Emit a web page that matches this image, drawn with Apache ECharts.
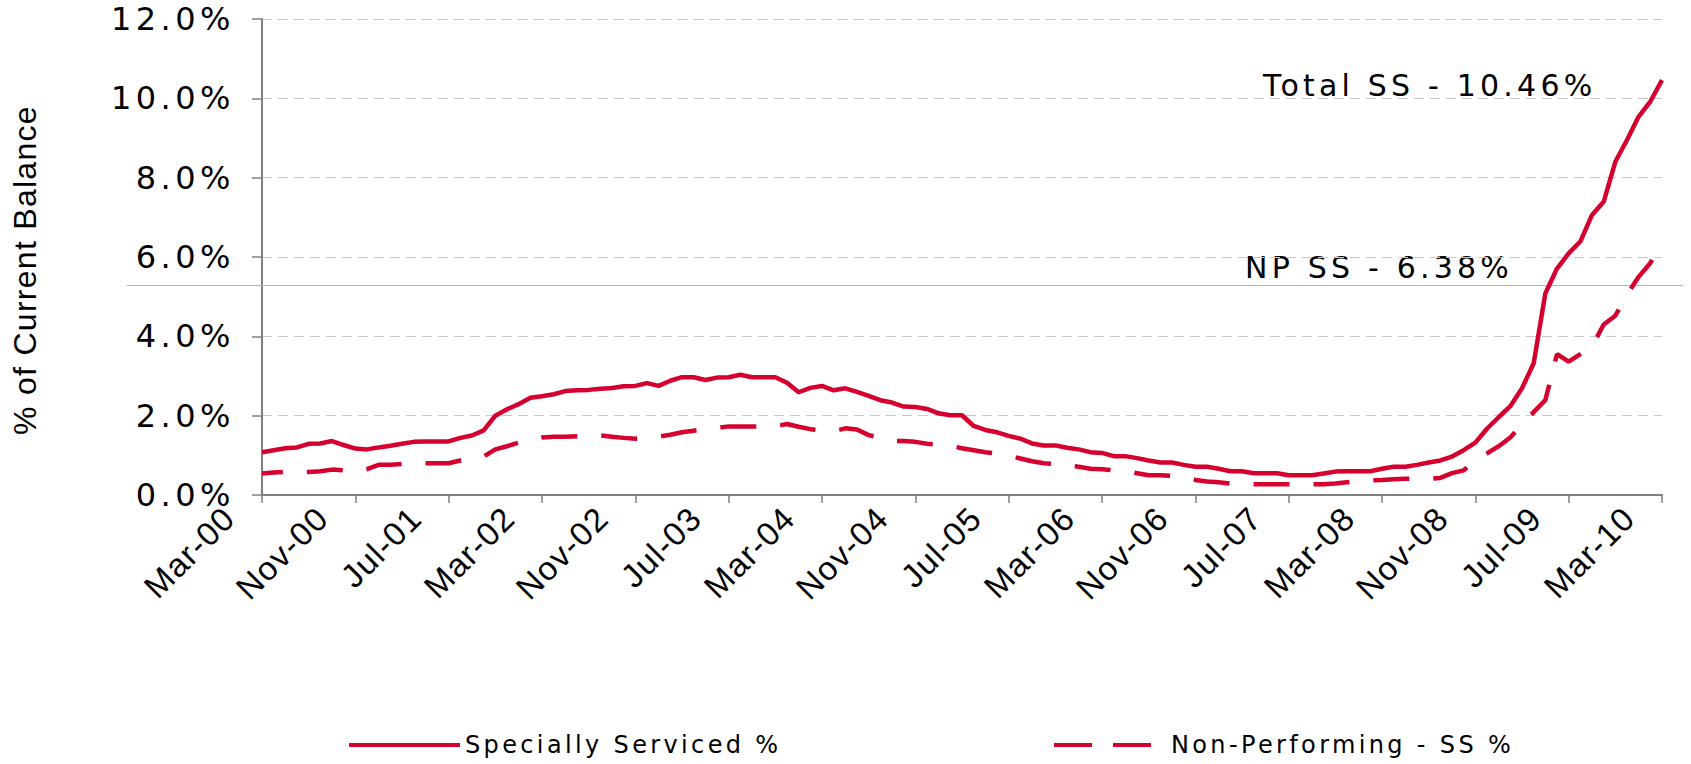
<!DOCTYPE html>
<html>
<head>
<meta charset="utf-8">
<title>Specially Serviced %</title>
<script src="https://cdn.jsdelivr.net/npm/echarts@6/dist/echarts.min.js"></script>
<style>
  html, body { margin: 0; padding: 0; background: #fff; }
  #main { width: 1691px; height: 764px; }
  /* the slide text is spaced out, svg renderer lets css do that */
  #main text[style*="DejaVu"] { letter-spacing: 0.14em; }
  #main text[style*="Liberation"] { letter-spacing: 0.04em; }
</style>
</head>
<body>
<div id="main"></div>
<script>
// months Mar-00 .. Mar-10
var monthNames = ['Jan', 'Feb', 'Mar', 'Apr', 'May', 'Jun', 'Jul', 'Aug', 'Sep', 'Oct', 'Nov', 'Dec'];
var months = [];
for (var k = 0; k <= 120; k++) {
  var m = (2 + k) % 12;
  var yr = Math.floor((2 + k) / 12);
  months.push(monthNames[m] + '-' + (yr < 10 ? '0' + yr : '' + yr));
}

// Specially Serviced % (total)
var totalSS = [
  1.08, 1.13, 1.18, 1.20, 1.29, 1.30, 1.36, 1.26, 1.17, 1.15,
  1.20, 1.24, 1.29, 1.34, 1.35, 1.35, 1.35, 1.44, 1.50, 1.63,
  2.00, 2.16, 2.29, 2.45, 2.49, 2.54, 2.62, 2.64, 2.65, 2.68,
  2.70, 2.74, 2.75, 2.82, 2.75, 2.88, 2.97, 2.97, 2.90, 2.96,
  2.97, 3.03, 2.97, 2.97, 2.97, 2.83, 2.59, 2.70, 2.75, 2.64,
  2.69, 2.60, 2.50, 2.39, 2.33, 2.23, 2.22, 2.17, 2.06, 2.01,
  2.01, 1.74, 1.64, 1.58, 1.49, 1.42, 1.30, 1.25, 1.25, 1.19,
  1.15, 1.08, 1.06, 0.98, 0.98, 0.93, 0.87, 0.82, 0.82, 0.76,
  0.71, 0.71, 0.66, 0.60, 0.60, 0.55, 0.55, 0.55, 0.50, 0.50,
  0.50, 0.54, 0.59, 0.60, 0.60, 0.60, 0.66, 0.71, 0.71, 0.76,
  0.82, 0.87, 0.97, 1.13, 1.32, 1.67, 1.96, 2.24, 2.69, 3.32,
  5.08, 5.71, 6.09, 6.39, 7.06, 7.39, 8.40, 8.95, 9.54, 9.92,
  10.46
];

// Non-Performing - SS %
var npSS = [
  0.54, 0.57, 0.58, 0.56, 0.58, 0.60, 0.64, 0.62, 0.59, 0.65,
  0.76, 0.76, 0.78, 0.80, 0.80, 0.80, 0.80, 0.87, 0.90, 0.97,
  1.15, 1.23, 1.32, 1.38, 1.45, 1.47, 1.47, 1.48, 1.49, 1.50,
  1.47, 1.44, 1.42, 1.44, 1.47, 1.52, 1.58, 1.62, 1.66, 1.69,
  1.73, 1.73, 1.73, 1.73, 1.73, 1.79, 1.72, 1.66, 1.63, 1.61,
  1.68, 1.65, 1.51, 1.44, 1.36, 1.36, 1.34, 1.29, 1.27, 1.24,
  1.18, 1.13, 1.08, 1.04, 0.99, 0.92, 0.85, 0.80, 0.78, 0.77,
  0.71, 0.66, 0.65, 0.62, 0.60, 0.55, 0.50, 0.50, 0.48, 0.45,
  0.38, 0.34, 0.32, 0.29, 0.28, 0.27, 0.27, 0.27, 0.27, 0.27,
  0.27, 0.27, 0.29, 0.32, 0.35, 0.37, 0.38, 0.40, 0.41, 0.41,
  0.41, 0.43, 0.55, 0.62, 0.88, 1.05, 1.23, 1.45, 1.78, 2.09,
  2.39, 3.55, 3.36, 3.55, 3.74, 4.30, 4.52, 5.05, 5.50, 5.85,
  6.38
];

var red = '#D6002F';
var verdana = "'DejaVu Sans', Verdana, sans-serif";
var arial = "'Liberation Sans', Arial, sans-serif";

var chartDom = document.getElementById('main');
var myChart = echarts.init(chartDom, null, {renderer: 'svg'});
var option;

option = {
  backgroundColor: '#ffffff',
  animation: false,
  grid: {
    left: 262,
    right: 29,
    top: 19,
    bottom: 269
  },
  legend: [
    {
      data: ['Specially Serviced %'],
      left: 347,
      top: 733,
      padding: 0,
      itemWidth: 111,
      itemHeight: 24,
      itemStyle: {opacity: 0},
      lineStyle: {width: 4},
      textStyle: {fontFamily: verdana, fontSize: 24, color: '#000'}
    },
    {
      data: ['Non-Performing - SS %'],
      left: 1052,
      top: 733,
      padding: 0,
      itemWidth: 97,
      itemHeight: 24,
      itemStyle: {opacity: 0},
      lineStyle: {width: 4, type: [38, 21], dashOffset: 0},
      textStyle: {fontFamily: verdana, fontSize: 24, color: '#000', padding: [0, 0, 0, 15]}
    }
  ],
  xAxis: {
    type: 'category',
    data: months,
    boundaryGap: false,
    axisLine: {lineStyle: {color: '#808080', width: 2}},
    axisTick: {interval: 7, length: 8, lineStyle: {color: '#808080', width: 1.5}},
    axisLabel: {
      interval: 7,
      rotate: 45,
      margin: 8,
      verticalAlign: 'bottom',
      padding: [0, 30, 0, 0],
      fontFamily: arial,
      fontSize: 33,
      color: '#000'
    },
    splitLine: {show: false}
  },
  yAxis: {
    type: 'value',
    min: 0,
    max: 12,
    interval: 2,
    axisLine: {show: true, lineStyle: {color: '#808080', width: 2}},
    axisTick: {show: true, length: 10, lineStyle: {color: '#808080', width: 1.5}},
    axisLabel: {
      margin: 27,
      fontFamily: verdana,
      fontSize: 32,
      color: '#000',
      formatter: function (v) {
        return v.toFixed(1) + '%';
      }
    },
    splitLine: {lineStyle: {color: '#c8c8c8', width: 1, type: [10, 6]}}
  },
  graphic: [
    {
      // stray divider line of the slide
      type: 'line',
      silent: true,
      z: 1,
      shape: {x1: 127, y1: 285.5, x2: 1683, y2: 285.5},
      style: {stroke: '#b4b4b4', lineWidth: 1}
    },
    {
      type: 'text',
      silent: true,
      x: 25,
      y: 270,
      rotation: Math.PI / 2,
      style: {
        text: '% of Current Balance',
        fontFamily: arial,
        fontSize: 32,
        fill: '#000',
        textAlign: 'center',
        textVerticalAlign: 'middle'
      }
    },
    {
      type: 'text',
      silent: true,
      x: 1263,
      y: 85,
      style: {
        text: 'Total SS - 10.46%',
        fontFamily: verdana,
        fontSize: 30,
        fill: '#000',
        textAlign: 'left',
        textVerticalAlign: 'middle'
      }
    },
    {
      type: 'text',
      silent: true,
      x: 1245,
      y: 267,
      style: {
        text: 'NP SS - 6.38%',
        fontFamily: verdana,
        fontSize: 30,
        fill: '#000',
        textAlign: 'left',
        textVerticalAlign: 'middle'
      }
    }
  ],
  series: [
    {
      name: 'Specially Serviced %',
      type: 'line',
      data: totalSS,
      symbol: 'none',
      z: 3,
      itemStyle: {color: red},
      lineStyle: {color: red, width: 4.5}
    },
    {
      name: 'Non-Performing - SS %',
      type: 'line',
      data: npSS,
      symbol: 'none',
      z: 3,
      itemStyle: {color: red},
      lineStyle: {color: red, width: 4.5, type: [36, 24], dashOffset: 15, cap: 'butt'}
    }
  ]
};

option && myChart.setOption(option);
</script>
</body>
</html>
